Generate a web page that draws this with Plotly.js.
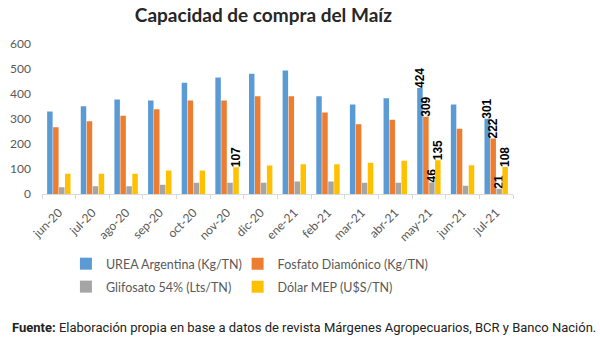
<!DOCTYPE html>
<html>
<head>
<meta charset="utf-8">
<script src="https://cdn.plot.ly/plotly-3.0.1.min.js"></script>
<style>html,body{margin:0;padding:0;background:#fff}#chart{width:600px;height:342px}</style>
</head>
<body>
<div id="chart"></div>
<script>
const months = ["jun-20","jul-20","ago-20","sep-20","oct-20","nov-20","dic-20","ene-21","feb-21","mar-21","abr-21","may-21","jun-21","jul-21"];
const urea = [330, 351, 378, 374, 445, 466, 481, 494, 391, 358, 383, 424, 358, 301];
const fosfato = [267, 291, 313, 339, 374, 374, 391, 391, 326, 279, 297, 309, 261, 222];
const glifosato = [27, 31, 31, 37, 45, 45, 45, 50, 50, 45, 45, 46, 33, 21];
const dolar = [81, 81, 81, 94, 94, 107, 114, 119, 119, 125, 133, 135, 115, 108];
const ureaLabels = ["","","","","","","","","","","","424","","301"];
const fosfatoLabels = ["","","","","","","","","","","","309","","222"];
const glifosatoLabels = ["","","","","","","","","","","","46","","21"];
const dolarLabels = ["","","","","","107","","","","","","135","","108"];
const seriesNames = ["UREA Argentina (Kg/TN)","Fosfato Diamónico (Kg/TN)","Glifosato 54% (Lts/TN)","Dólar MEP (U$S/TN)"];
const colors = ["#5B9BD5","#ED7D31","#A5A5A5","#FFC000"];

const labelFont = {family: "Liberation Sans, Arial, sans-serif", size: 12, color: "#000"};
function mk(i, vals, labels, legendId) {
  return {
    type: "bar", x: months, y: vals, name: seriesNames[i],
    marker: {color: colors[i]},
    text: labels.map(t => t ? "<b>" + t + "</b>" : ""),
    textposition: "outside", textangle: -90, constraintext: "none",
    cliponaxis: false, textfont: labelFont, hoverinfo: "x+y+name",
    legend: legendId
  };
}
const data = [
  mk(0, urea, ureaLabels, "legend"),
  mk(1, fosfato, fosfatoLabels, "legend2"),
  mk(2, glifosato, glifosatoLabels, "legend3"),
  mk(3, dolar, dolarLabels, "legend4")
];
const legendBase = {
  orientation: "h", xanchor: "left", yanchor: "middle",
  font: {family: "Lato, sans-serif", size: 12.5, color: "#595959"},
  bgcolor: "rgba(0,0,0,0)"
};
const lx1 = 0.0508, lx2 = 0.4153, ly1 = -0.467, ly2 = -0.62;
const layout = {
  width: 600, height: 342,
  margin: {l: 42, r: 87, t: 44, b: 148},
  paper_bgcolor: "#fff", plot_bgcolor: "#fff",
  title: {text: "<b>Capacidad de compra del Maíz</b>", xref: "paper", x: 0.47, xanchor: "center",
          y: 0.955, yanchor: "middle", font: {family: "Lato, sans-serif", size: 19, color: "#262626"}},
  barmode: "group", bargap: 0.29, bargroupgap: 0.08,
  xaxis: {type: "category", tickangle: -45, showline: true, linecolor: "#D9D9D9", linewidth: 1,
          ticks: "outside", tickson: "boundaries", ticklen: 4, tickcolor: "#D9D9D9",
          ticklabelstandoff: 6,
          tickfont: {family: "Lato, sans-serif", size: 12, color: "#595959"}, showgrid: false},
  yaxis: {range: [0, 600], dtick: 100, showgrid: false, zeroline: false, showline: false,
          ticks: "", ticklabelstandoff: 10,
          tickfont: {family: "Lato, sans-serif", size: 12, color: "#595959"}},
  showlegend: true,
  legend: Object.assign({}, legendBase, {x: lx1, y: ly1}),
  legend2: Object.assign({}, legendBase, {x: lx2, y: ly1}),
  legend3: Object.assign({}, legendBase, {x: lx1, y: ly2}),
  legend4: Object.assign({}, legendBase, {x: lx2, y: ly2}),
  annotations: [{
    xref: "paper", yref: "paper", x: -0.0678, y: -0.893, xanchor: "left", yanchor: "middle",
    showarrow: false, align: "left",
    text: "<b>Fuente:</b> Elaboración propia en base a datos de revista Márgenes Agropecuarios, BCR y Banco Nación.",
    font: {family: "Roboto, sans-serif", size: 13, color: "#222"}
  }]
};
Plotly.newPlot("chart", data, layout, {displayModeBar: false, staticPlot: true});
</script>
</body>
</html>
